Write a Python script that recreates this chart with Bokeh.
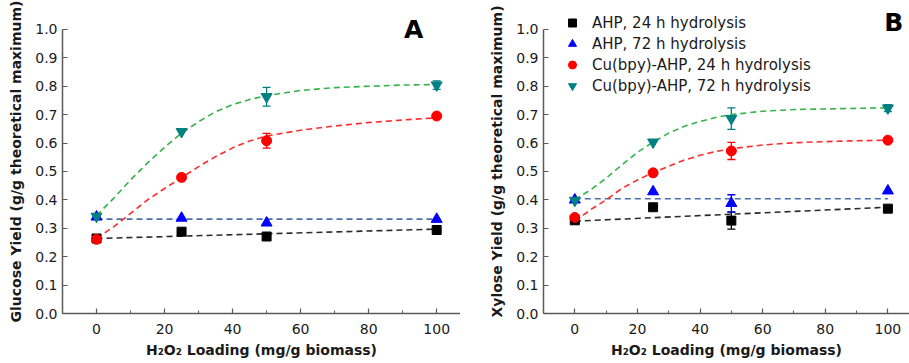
from bokeh.plotting import figure
from bokeh.models import (ColumnDataSource, FixedTicker, Whisker, TeeHead, Label,
                          Legend, LegendItem, Range1d)
from bokeh.layouts import row
from bokeh.embed import file_html
from bokeh.resources import INLINE

# ---------------- data ----------------
load = [0, 25, 50, 100]

# Panel A: glucose yield
glc_ahp24 = [0.264, 0.288, 0.271, 0.294]
glc_ahp24_err = [0.0, 0.0, 0.0, 0.0]
glc_ahp72 = [0.340, 0.336, 0.319, 0.332]
glc_ahp72_err = [0.0, 0.0, 0.0, 0.0]
glc_cu24 = [0.261, 0.479, 0.608, 0.695]
glc_cu24_err = [0.0, 0.0, 0.026, 0.0]
glc_cu72 = [0.342, 0.640, 0.763, 0.804]
glc_cu72_err = [0.0, 0.0, 0.033, 0.015]

# Panel B: xylose yield
xyl_ahp24 = [0.328, 0.374, 0.327, 0.369]
xyl_ahp24_err = [0.0, 0.0, 0.03, 0.0]
xyl_ahp72 = [0.400, 0.429, 0.388, 0.432]
xyl_ahp72_err = [0.0, 0.0, 0.03, 0.0]
xyl_cu24 = [0.338, 0.495, 0.572, 0.610]
xyl_cu24_err = [0.0, 0.0, 0.03, 0.0]
xyl_cu72 = [0.398, 0.603, 0.686, 0.723]
xyl_cu72_err = [0.0, 0.0, 0.038, 0.012]

# fitted curves
fit_x = [0, 5, 10, 15, 20, 25, 30, 35, 40, 45, 50, 60, 70, 80, 90, 100]
glc_cu72_fit = [0.345, 0.405, 0.470, 0.530, 0.585, 0.635, 0.675, 0.710, 0.735,
                0.753, 0.767, 0.785, 0.795, 0.800, 0.804, 0.806]
glc_cu24_fit = [0.264, 0.305, 0.352, 0.400, 0.440, 0.478, 0.517, 0.552, 0.583,
                0.607, 0.625, 0.645, 0.660, 0.672, 0.681, 0.689]
xyl_cu72_fit = [0.400, 0.435, 0.476, 0.523, 0.567, 0.603, 0.635, 0.659, 0.676,
                0.690, 0.700, 0.712, 0.718, 0.720, 0.722, 0.724]
xyl_cu24_fit = [0.325, 0.365, 0.400, 0.440, 0.470, 0.496, 0.518, 0.540, 0.557,
                0.570, 0.580, 0.593, 0.601, 0.605, 0.608, 0.610]
lin_x = [0, 100]
glc_ahp24_fit = [0.264, 0.297]
glc_ahp72_fit = [0.332, 0.332]
xyl_ahp24_fit = [0.325, 0.374]
xyl_ahp72_fit = [0.404, 0.404]

series_names = ["AHP, 24 h hydrolysis", "AHP, 72 h hydrolysis",
                "Cu(bpy)-AHP, 24 h hydrolysis", "Cu(bpy)-AHP, 72 h hydrolysis"]

x_ticks = [0, 20, 40, 60, 80, 100]
x_minor_ticks = [10, 30, 50, 70, 90]
y_ticks = [0.0, 0.1, 0.2, 0.3, 0.4, 0.5, 0.6, 0.7, 0.8, 0.9, 1.0]
y_tick_labels = ["0.0", "0.1", "0.2", "0.3", "0.4", "0.5", "0.6", "0.7", "0.8", "0.9", "1.0"]

# ---------------- styling ----------------
FONT = "DejaVu Sans"
MARKERS = ["square", "triangle", "circle", "inverted_triangle"]
MCOLORS = ["#000000", "#0000ff", "#ff0000", "#008080"]
MSIZES = [9, 11, 10, 11]
FITCOLORS = ["#2b2b2b", "#4a6eaa", "#ff2a2a", "#33b34a"]
AXIS_COLOR = "#5a5a5a"
Y_TOP = 1.07


def make_panel(ylabel, values, errors, curve_fits, lin_fits, letter, letter_xy,
               width, left, x_end, with_legend=False):
    p = figure(width=width, height=363, output_backend="svg", toolbar_location=None,
               x_range=Range1d(-10, x_end), y_range=Range1d(0, Y_TOP),
               min_border_left=left, min_border_right=0, min_border_top=9,
               min_border_bottom=50)
    p.outline_line_color = None
    p.xgrid.visible = False
    p.ygrid.visible = False

    for ax in (p.xaxis[0], p.yaxis[0]):
        ax.axis_line_color = AXIS_COLOR
        ax.axis_line_width = 1.5
        ax.major_tick_line_color = AXIS_COLOR
        ax.major_tick_line_width = 1.2
        ax.minor_tick_line_color = AXIS_COLOR
        ax.major_tick_in = 5
        ax.major_tick_out = 0
        ax.minor_tick_in = 3
        ax.minor_tick_out = 0
        ax.major_label_text_font = FONT
        ax.major_label_text_font_size = "14px"
        ax.major_label_text_color = "#1a1a1a"
        ax.axis_label_text_font = FONT
        ax.axis_label_text_font_size = "14px"
        ax.axis_label_text_font_style = "bold"
        ax.axis_label_text_color = "#1a1a1a"

    p.xaxis.ticker = FixedTicker(ticks=x_ticks, minor_ticks=x_minor_ticks)
    p.yaxis.ticker = FixedTicker(ticks=y_ticks, minor_ticks=[])
    p.yaxis.bounds = (y_ticks[0], y_ticks[-1])
    p.yaxis.major_label_overrides = {t: s for t, s in zip(y_ticks, y_tick_labels)}
    p.xaxis.major_label_standoff = 10
    p.xaxis.axis_label_standoff = 5
    p.yaxis.major_label_standoff = 5
    p.yaxis.axis_label_standoff = 8
    p.xaxis.axis_label = "H\u2082O\u2082 Loading (mg/g biomass)"
    p.yaxis.axis_label = ylabel

    # fitted lines
    for ys, col in zip(lin_fits, FITCOLORS[:2]):
        p.line(lin_x, ys, line_color=col, line_width=1.6, line_dash="6 4")
    for ys, col in zip(curve_fits, FITCOLORS[2:]):
        p.line(fit_x, ys, line_color=col, line_width=1.6, line_dash="6 4")

    # error bars
    for vals, errs, col in zip(values, errors, MCOLORS):
        xs = [x for x, e in zip(load, errs) if e > 0]
        if not xs:
            continue
        up = [v + e for v, e in zip(vals, errs) if e > 0]
        lo = [v - e for v, e in zip(vals, errs) if e > 0]
        src = ColumnDataSource(dict(x=xs, upper=up, lower=lo))
        w = Whisker(source=src, base="x", upper="upper", lower="lower",
                    line_color=col, line_width=1.3,
                    upper_head=TeeHead(size=8, line_color=col, line_width=1.3),
                    lower_head=TeeHead(size=8, line_color=col, line_width=1.3))
        p.add_layout(w)

    # markers
    renderers = []
    for vals, mk, col, sz in zip(values, MARKERS, MCOLORS, MSIZES):
        r = p.scatter(load, vals, marker=mk, size=sz, fill_color=col, line_color=col)
        renderers.append(r)

    p.add_layout(Label(x=letter_xy[0], y=letter_xy[1], text=letter,
                       text_font=FONT, text_font_size="25px", text_font_style="bold",
                       text_align="center", text_baseline="middle", text_color="#000000"))

    if with_legend:
        items = [LegendItem(label=n, renderers=[r]) for n, r in zip(series_names, renderers)]
        lg = Legend(items=items, location=(19, 217), border_line_color=None,
                    background_fill_alpha=0, padding=0, margin=0, spacing=0,
                    glyph_width=20, glyph_height=21, label_height=21,
                    label_standoff=10, label_text_font=FONT,
                    label_text_font_size="15px", label_text_color="#1a1a1a")
        p.add_layout(lg)
    return p


pA = make_panel("Glucose Yield (g/g theoretical maximum)",
                [glc_ahp24, glc_ahp72, glc_cu24, glc_cu72],
                [glc_ahp24_err, glc_ahp72_err, glc_cu24_err, glc_cu72_err],
                [glc_cu24_fit, glc_cu72_fit], [glc_ahp24_fit, glc_ahp72_fit],
                "A", (93.2, 1.0), 460, 62, 107)
pB = make_panel("Xylose Yield (g/g theoretical maximum)",
                [xyl_ahp24, xyl_ahp72, xyl_cu24, xyl_cu72],
                [xyl_ahp24_err, xyl_ahp72_err, xyl_cu24_err, xyl_cu72_err],
                [xyl_cu24_fit, xyl_cu72_fit], [xyl_ahp24_fit, xyl_ahp72_fit],
                "B", (101.9, 1.025), 449, 83, 106.9, with_legend=True)

layout = row(pA, pB)
open("out.html", "w").write(file_html(layout, INLINE))
